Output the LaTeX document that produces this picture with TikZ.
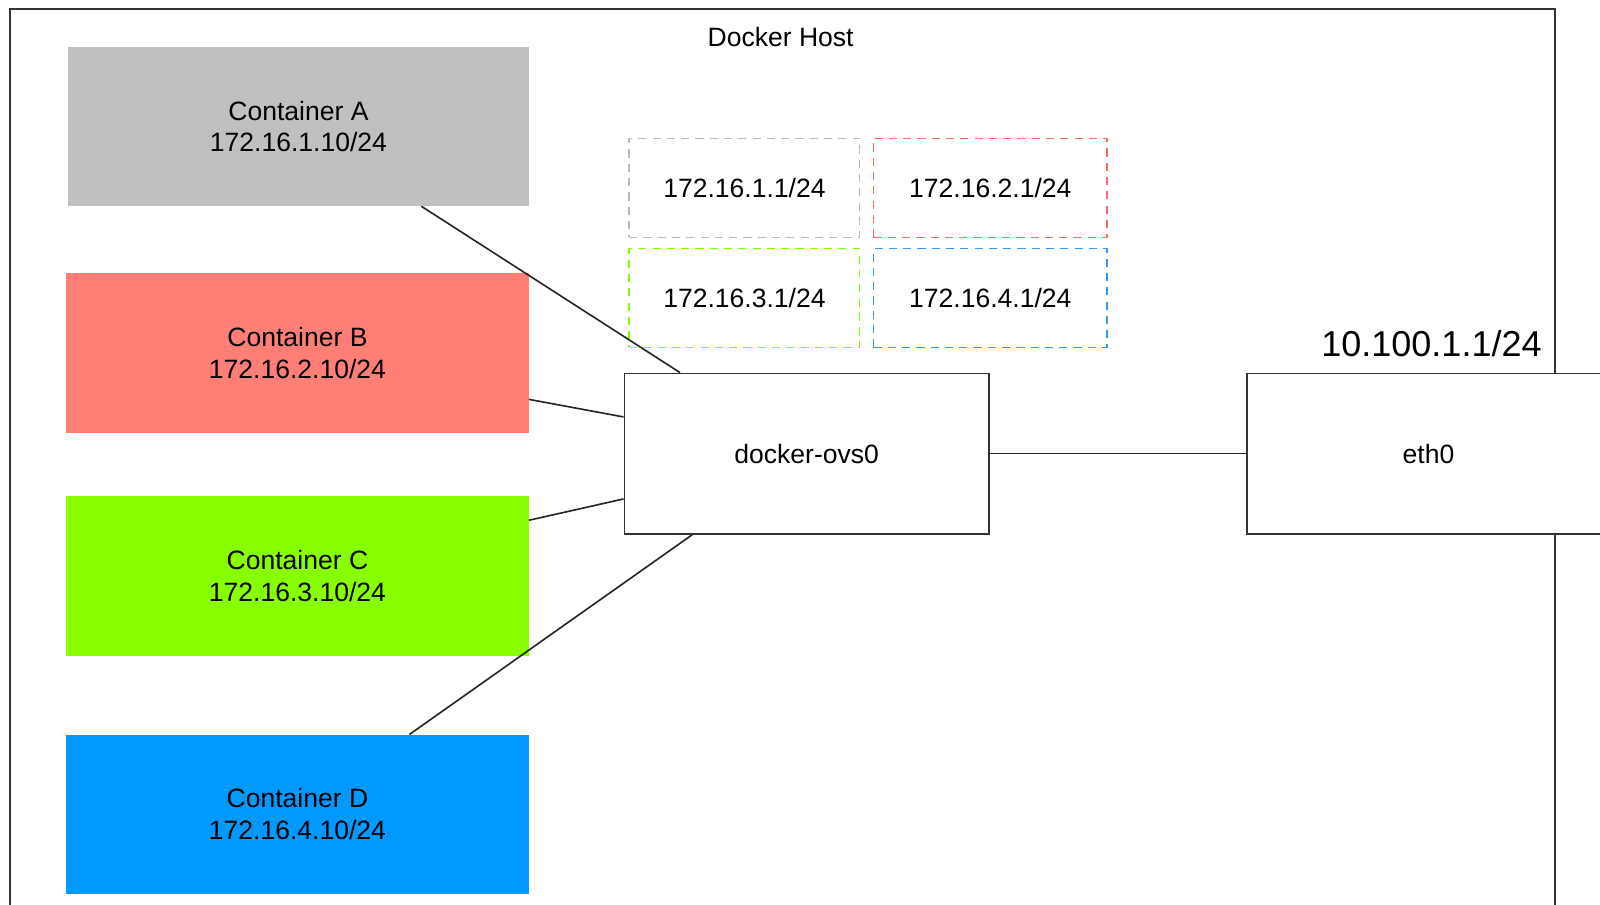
\documentclass[tikz,border=0pt]{standalone}
\usepackage{fontspec}
\setmainfont{Liberation Sans}
\usepackage{xcolor}
\usepackage{tikz}
\usetikzlibrary{calc}
\definecolor{ctrgray}{HTML}{C0C0C0}
\definecolor{ctrred}{HTML}{FF7F76}
\definecolor{ctrgreen}{HTML}{88FF00}
\definecolor{ctrblue}{HTML}{0099FF}
\definecolor{gwgray}{HTML}{B8B8B8}
\definecolor{gwred}{HTML}{FF6666}
\definecolor{gwgreen}{HTML}{80FF00}
\definecolor{gwblue}{HTML}{3399FF}
\begin{document}
\begin{tikzpicture}[x=1pt, y=-1pt,
    txt/.style={font=\fontsize{26}{31}\selectfont, inner sep=0pt, align=center},
    ctrbox/.style={txt, fill=#1, minimum width=453pt, minimum height=156pt},
    gwbox/.style={txt, draw=#1, dash pattern=on 8pt off 6pt, line width=1.4pt,
      minimum width=227pt, minimum height=97pt},
    hostbox/.style={txt, draw=black!80, fill=white, line width=1.8pt,
      minimum height=157pt},
    wire/.style={draw=black!85, line width=1.6pt}]
    \clip (0,0) rectangle (1568,886);
    % Host frame
    \draw[black!80, line width=1.8pt] (10,9) rectangle (1524,960);
    \node[txt] (host) at (765,36) {Docker Host};
    % Containers
    \node[ctrbox=ctrgray, minimum width=451pt] (ctrA) at (292.5,124)
      {Container A\\172.16.1.10/24};
    \node[ctrbox=ctrred] (ctrB) at (291.5,346)
      {Container B\\172.16.2.10/24};
    \node[ctrbox=ctrgreen, minimum height=157pt] (ctrC) at (291.5,564.5)
      {Container C\\172.16.3.10/24};
    \node[ctrbox=ctrblue] (ctrD) at (291.5,798)
      {Container D\\172.16.4.10/24};
    % Gateway addresses
    \node[gwbox=gwgray, minimum width=226pt] (gwA) at (729.5,184) {172.16.1.1/24};
    \node[gwbox=gwred, minimum width=229pt] (gwB) at (970.5,184) {172.16.2.1/24};
    \node[gwbox=gwgreen, minimum width=226pt] (gwC) at (729.5,292) {172.16.3.1/24};
    \node[gwbox=gwblue, minimum width=229pt] (gwD) at (970.5,292) {172.16.4.1/24};
    % Bridge and uplink
    \node[hostbox, minimum width=357pt] (ovs) at (790.5,444.5) {docker-ovs0};
    \node[hostbox, minimum width=420pt, anchor=west,
      label={[txt, xshift=-32pt]center:eth0}] (eth0) at (1221,444.5) {};
    \node[inner sep=0pt, anchor=east, font=\fontsize{35.3}{40}\selectfont]
      (uplink) at (1511,337) {10.100.1.1/24};
    % Links
    \draw[wire] ($(ctrA.south west)!0.767!(ctrA.south east)$)
      -- ($(ovs.north west)!0.154!(ovs.north east)$);
    \draw[wire] ($(ctrB.north east)!0.79!(ctrB.south east)$)
      -- ($(ovs.north west)!0.274!(ovs.south west)$);
    \draw[wire] ($(ctrC.north east)!0.153!(ctrC.south east)$)
      -- ($(ovs.north west)!0.78!(ovs.south west)$);
    \draw[wire] ($(ctrD.north west)!0.742!(ctrD.north east)$)
      -- ($(ovs.south west)!0.188!(ovs.south east)$);
    \draw[wire] (ovs.east) -- (eth0.west);
  \end{tikzpicture}
\end{document}
